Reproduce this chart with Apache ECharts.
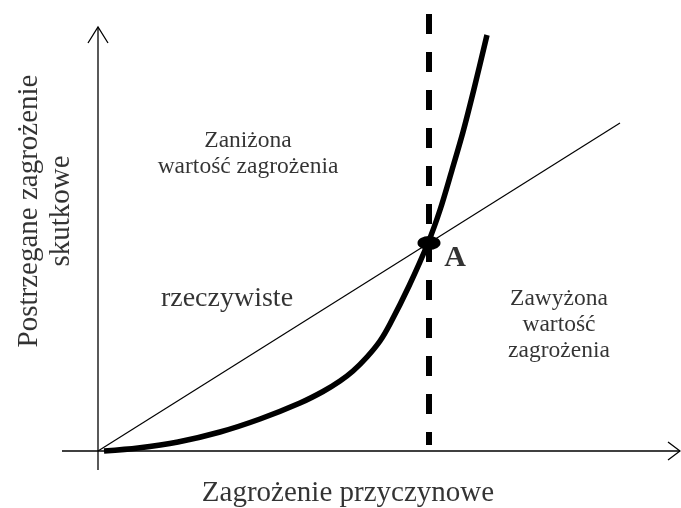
<!DOCTYPE html>
<html>
<head>
<meta charset="utf-8">
<script src="https://cdn.jsdelivr.net/npm/echarts@6/dist/echarts.min.js"></script>
<style>html,body{margin:0;padding:0;background:#fff}#c{width:681px;height:508px}</style>
</head>
<body>
<div id="c"></div>
<script>
// Coordinates are in chart units: origin at the axes' intersection.
var yAxisLine = [[0, -19], [0, 424]];
var yArrow = [[-10, 408], [0, 424], [10, 408]];
var xAxisLine = [[-36, 0], [582, 0]];
var xArrow = [[570, 9], [582, 0], [570, -9]];
var diagonal = [[0, 0], [522, 328]];
var curve = [[6, 0], [40, 3], [80, 9], [122, 19], [162, 32], [202, 48], [225, 59.5], [242, 70], [255, 80], [269, 94], [282, 110], [292, 127], [311, 165], [330, 208], [342, 241], [354, 281], [365, 319], [376, 362], [389, 416]];
var dashed = [[331, 437], [331, 6]];
var pointA = [[331, 208]];
var labelsNormal = [
  {name: 'Zaniżona\nwartość zagrożenia', value: [150, 297]},
  {name: 'Zawyżona\nwartość\nzagrożenia', value: [461, 126]}
];
var labelBig = [{name: 'rzeczywiste', value: [129, 152]}];
var labelA = [{name: 'A', value: [357, 193]}];
var xTitle = [{name: 'Zagrożenie przyczynowe', value: [250, -42]}];
var yTitle = [{name: 'Postrzegane zagrożenie\nskutkowe', value: [-53, 240]}];

var FONT = "'Liberation Serif', 'Times New Roman', serif";
function lineS(data, w, extra) {
  var s = {type: 'line', data: data, symbol: 'none', silent: true,
    lineStyle: {color: '#000', width: w, cap: 'butt', join: 'round'}, z: 2};
  if (extra) for (var k in extra) s[k] = extra[k];
  return s;
}
function textS(data, size, weight, rotate, lh) {
  return {type: 'scatter', data: data, symbolSize: 1, itemStyle: {color: 'rgba(0,0,0,0)'}, silent: true, z: 10,
    label: {show: true, position: 'inside', formatter: function (p) { return p.name; },
      color: '#000', fontFamily: FONT, fontSize: size, fontWeight: weight, rotate: rotate || 0,
      lineHeight: lh, align: 'center', verticalAlign: 'middle'}};
}
var chart = echarts.init(document.getElementById('c'));
chart.setOption({
  animation: false,
  grid: {left: 0, right: 0, top: 0, bottom: 0},
  xAxis: {type: 'value', min: -98, max: 583, show: false},
  yAxis: {type: 'value', min: -57, max: 451, show: false},
  series: [
    lineS(yAxisLine, 1.3),
    lineS(yArrow, 1.3, {lineStyle: {color: '#000', width: 1.3, join: 'miter'}}),
    lineS(xAxisLine, 1.3),
    lineS(xArrow, 1.3, {lineStyle: {color: '#000', width: 1.3, join: 'miter'}}),
    lineS(diagonal, 1.2),
    lineS(curve, 5.5, {smooth: 0.3, z: 3}),
    (function () { var s = lineS(dashed, 6, {z: 4}); s.lineStyle.type = [20, 18]; s.lineStyle.cap = 'butt'; return s; })(),
    {type: 'scatter', data: pointA, symbol: 'circle', symbolSize: [23, 14], itemStyle: {color: '#000', opacity: 1}, z: 5, silent: true},
    textS(labelsNormal, 23.5, 'normal', 0, 26),
    textS(labelBig, 28, 'normal', 0, 32),
    textS(labelA, 30, 'bold', 0, 32),
    textS(xTitle, 29, 'normal', 0, 32),
    textS(yTitle, 29, 'normal', 90, 32)
  ]
});
</script>
</body>
</html>
